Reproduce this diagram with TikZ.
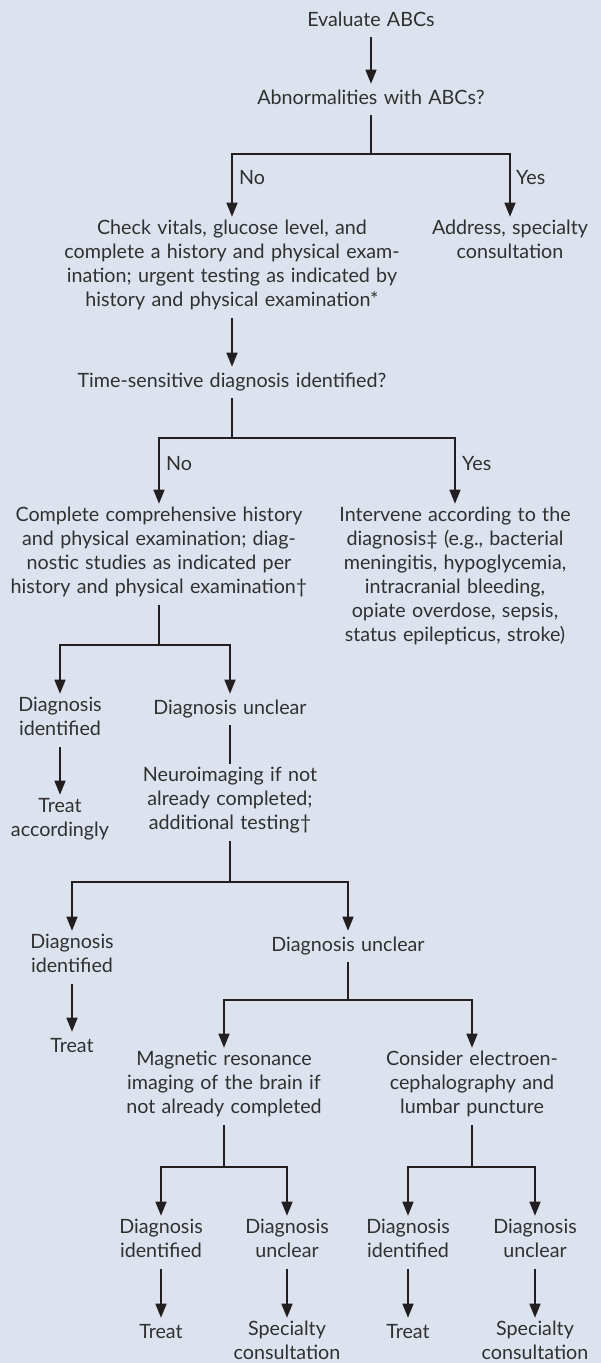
\documentclass[tikz,border=0pt]{standalone}
\usepackage{fontspec}
\setmainfont{Lato}[WordSpace=1.25]
\usetikzlibrary{arrows.meta}
\definecolor{bg}{HTML}{DCE3EE}
\definecolor{ink}{HTML}{231F20}
\definecolor{txt}{HTML}{303030}
\begin{document}
\begin{tikzpicture}[x=1pt,y=-1pt,
  font=\fontsize{19.7}{24}\selectfont,
  box/.style={anchor=north, align=center, inner xsep=0pt, inner ysep=3.5pt, text=txt,
    execute at begin node=\strut, execute at end node=\strut},
  lab/.style={anchor=base west, inner sep=0pt, text=txt},
  ln/.style={draw=ink, line width=1.5pt},
  arr/.style={ln, -{Triangle[width=11pt,length=14pt]}}]
\fill[bg] (0,0) rectangle (601,1363);
\useasboundingbox (0,0) rectangle (601,1363);

\node[box] (eval) at (371,5.7) {Evaluate ABCs};
\node[box] (abn) at (371,83.7) {Abnormalities with ABCs?};
\node[box] (check) at (232,216.7) {Check vitals, glucose level, and\\complete a history and physical exam-\\ination; urgent testing as indicated by\\history and physical examination*};
\node[box] (addr) at (510,216.7) {Address, specialty\\consultation};
\node[box] (time) at (232,366.7) {Time-sensitive diagnosis identified?};
\node[box] (compl) at (159,503.7) {Complete comprehensive history\\and physical examination; diag-\\nostic studies as indicated per\\history and physical examination†};
\node[box] (interv) at (455,503.7) {Intervene according to the\\diagnosis‡ (e.g., bacterial\\meningitis, hypoglycemia,\\intracranial bleeding,\\opiate overdose, sepsis,\\status epilepticus, stroke)};
\node[box] (did1) at (60,693.7) {Diagnosis\\identified};
\node[box] (dun1) at (230,693.7) {Diagnosis unclear};
\node[box] (tacc) at (60,794.7) {Treat\\accordingly};
\node[box] (neuro) at (230,763.7) {Neuroimaging if not\\already completed;\\additional testing†};
\node[box] (did2) at (72,930.7) {Diagnosis\\identified};
\node[box] (dun2) at (348,930.7) {Diagnosis unclear};
\node[box] (tr2) at (72,1031.7) {Treat};
\node[box] (mri) at (224,1047.7) {Magnetic resonance\\imaging of the brain if\\not already completed};
\node[box] (eeg) at (472,1047.7) {Consider electroen-\\cephalography and\\lumbar puncture};
\node[box] (did3) at (161,1215.7) {Diagnosis\\identified};
\node[box] (dun3) at (287,1215.7) {Diagnosis\\unclear};
\node[box] (did4) at (408,1215.7) {Diagnosis\\identified};
\node[box] (dun4) at (535,1215.7) {Diagnosis\\unclear};
\node[box] (tr3) at (161,1317.7) {Treat};
\node[box] (sp3) at (287,1317.7) {Specialty\\consultation};
\node[box] (tr4) at (408,1317.7) {Treat};
\node[box] (sp4) at (535,1317.7) {Specialty\\consultation};

\node[lab] (no1) at (239,184) {No};
\node[lab] (yes1) at (516,184) {Yes};
\node[lab] (no2) at (166,470) {No};
\node[lab] (yes2) at (462,470) {Yes};

\coordinate (j1) at (371,154);
\coordinate (j2) at (232,438);
\coordinate (j3) at (159,645);
\coordinate (j4) at (230,882);
\coordinate (j5) at (348,1000);
\coordinate (j6) at (224,1167);
\coordinate (j7) at (472,1167);

\draw[arr] (eval.south) -- (abn.north);
\draw[ln] (abn.south) -- (j1);
\draw[arr] (j1) -| (check.north);
\draw[arr] (j1) -| (addr.north);
\draw[arr] (check.south) -- (time.north);
\draw[ln] (time.south) -- (j2);
\draw[arr] (j2) -| (compl.north);
\draw[arr] (j2) -| (interv.north);
\draw[ln] (compl.south) -- (j3);
\draw[arr] (j3) -| (did1.north);
\draw[arr] (j3) -| (dun1.north);
\draw[arr] (did1.south) -- (tacc.north);
\draw[ln] (dun1.south) -- (neuro.north);
\draw[ln] (neuro.south) -- (j4);
\draw[arr] (j4) -| (did2.north);
\draw[arr] (j4) -| (dun2.north);
\draw[arr] (did2.south) -- (tr2.north);
\draw[ln] (dun2.south) -- (j5);
\draw[arr] (j5) -| (mri.north);
\draw[arr] (j5) -| (eeg.north);
\draw[ln] (mri.south) -- (j6);
\draw[arr] (j6) -| (did3.north);
\draw[arr] (j6) -| (dun3.north);
\draw[ln] (eeg.south) -- (j7);
\draw[arr] (j7) -| (did4.north);
\draw[arr] (j7) -| (dun4.north);
\draw[arr] (did3.south) -- (tr3.north);
\draw[arr] (dun3.south) -- (sp3.north);
\draw[arr] (did4.south) -- (tr4.north);
\draw[arr] (dun4.south) -- (sp4.north);
\end{tikzpicture}
\end{document}
